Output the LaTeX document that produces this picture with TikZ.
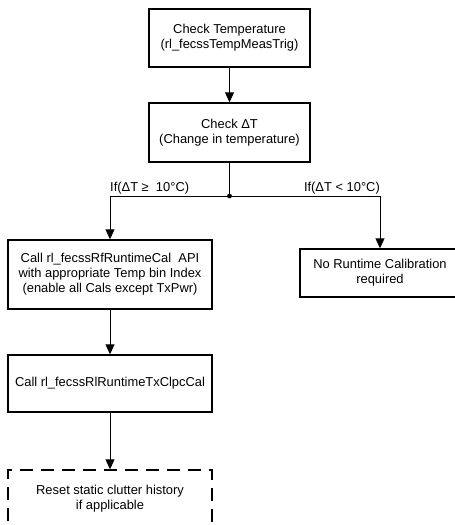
\documentclass[tikz,border=0pt]{standalone}
\usepackage{fontspec}
\setmainfont{Liberation Sans}
\usepackage{tikz}
\usetikzlibrary{arrows.meta, positioning}

\begin{document}
\begin{tikzpicture}[x=1pt, y=-1pt, font=\fontsize{12.9}{15}\selectfont, >={Triangle[length=10pt,width=9pt]}]

% =========================
% Styles (ALL IN ONE BLOCK)
% =========================
\tikzset{
    box/.style={draw, line width=1.4pt, align=center, inner sep=2pt},
    dashbox/.style={box, dash pattern=on 13pt off 8pt},
    arrow/.style={->, line width=0.9pt},
    link/.style={line width=0.9pt},
    cond/.style={inner sep=0pt}
}

% page size (right box and dashed box run off the page)
\useasboundingbox (0,0) rectangle (455,525);
\clip (0,0) rectangle (455,525);

% =========================
% Temperature check
% =========================
\node[box, minimum width=161pt, minimum height=58pt] (temp) at (229.5,38)
    {Check Temperature\\(rl\_fecssTempMeasTrig)};
\node[box, minimum width=161pt, minimum height=59pt] (delta) at (229.5,132.5)
    {Check ΔT\\(Change in temperature)};
\draw[arrow] (temp) -- (delta);

% =========================
% Branch on Delta T
% =========================
\coordinate (junc) at (229.5,196);
\draw[link] (delta) -- (junc);
\fill (junc) circle (2.4pt);

\node[box, minimum width=204pt, minimum height=69pt] (rfcal) at (110,274.5)
    {Call rl\_fecssRfRuntimeCal\ \ API\\with appropriate Temp bin Index\\(enable all Cals except TxPwr)};
\node[box, minimum width=160pt, minimum height=48pt] (nocal) at (380,273)
    {No Runtime Calibration\\required};

\draw[arrow] (junc) -| (rfcal);
\draw[arrow] (junc) -| (nocal);

\node[cond, anchor=base west] (hot) at (110,191.5) {If(ΔT ≥\ \ 10°C)};
\node[cond, anchor=base east] (cold) at (380,191.5) {If(ΔT < 10°C)};

% =========================
% Tx CLPC and clutter reset
% =========================
\node[box, minimum width=204pt, minimum height=57pt] (clpc) at (110,383.5)
    {Call rl\_fecssRlRuntimeTxClpcCal};
\node[dashbox, minimum width=204pt, minimum height=58pt] (reset) at (110,499)
    {Reset static clutter history\\if applicable};

\draw[arrow] (rfcal) -- (clpc);
\draw[arrow] (clpc) -- (reset);

\end{tikzpicture}
\end{document}
